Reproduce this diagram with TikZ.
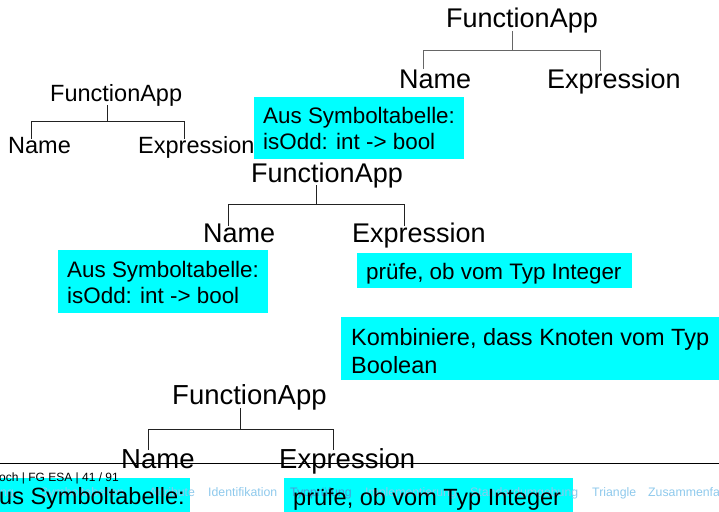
\documentclass[tikz,border=0pt]{standalone}
\usepackage{fontspec}
\setmainfont{Liberation Sans}
\definecolor{boxcyan}{HTML}{00FFFF}
\definecolor{navblue}{HTML}{8EC9EC}
\definecolor{navcur}{HTML}{4A9AD8}
\definecolor{treegray}{HTML}{666666}
\definecolor{treedark}{HTML}{222222}
\tikzset{
  txt/.style={inner sep=0pt, anchor=base west},
  tA/.style={font=\fontsize{27}{32}\selectfont},
  tB/.style={font=\fontsize{23.5}{28}\selectfont},
  tC/.style={font=\fontsize{27.5}{33}\selectfont},
  boxtxt/.style={font=\fontsize{22.4}{26}\selectfont},
  boxtxtL/.style={font=\fontsize{23.5}{28}\selectfont},
  navtxt/.style={font=\fontsize{12.3}{14}\selectfont, text=navblue},
  foot/.style={font=\fontsize{12}{14}\selectfont},
  hint/.style={fill=boxcyan, draw=none},
  treeline/.style={line width=1pt, draw=treedark},
}
\begin{document}
\begin{tikzpicture}[x=1pt,y=-1pt]
\useasboundingbox (0,0) rectangle (719,511);
\clip (0,0) rectangle (719,511);

% ---------- cyan boxes ----------
\path[hint] (254,97) rectangle (464,159);
\path[hint] (58,250) rectangle (268,313);
\path[hint] (357,253) rectangle (632,288);
\path[hint] (341,317) rectangle (725,380);
\path[hint] (-5,478) rectangle (190,515);
\path[hint] (284,478) rectangle (573,515);

% ---------- top-right tree ----------
\node[txt,tA] (fa1) at (446,28) {FunctionApp};
\node[txt,tA] (n1) at (399,88) {Name};
\node[txt,tA] (e1) at (547,88) {Expression};
\coordinate (a1) at (512,31);
\coordinate (m1) at (512,51);
\coordinate (l1) at (423,51);
\coordinate (r1) at (600,51);
\coordinate (lb1) at (423,69);
\coordinate (rb1) at (600,71);
\draw[treeline, draw=treegray] (a1) -- (m1);
\draw[treeline, draw=treegray] (lb1) -- (l1) -- (r1) -- (rb1);

% ---------- left tree ----------
\node[txt,tB] (fa2) at (50,101) {FunctionApp};
\node[txt,tB] (n2) at (8,153) {Name};
\node[txt,tB] (e2) at (138,153) {Expression};
\coordinate (a2) at (107,105);
\coordinate (m2) at (107,121);
\coordinate (l2) at (31,121);
\coordinate (r2) at (184,121);
\coordinate (lb2) at (31,139);
\coordinate (rb2) at (184,139);
\draw[treeline] (a2) -- (m2);
\draw[treeline] (lb2) -- (l2) -- (r2) -- (rb2);

% ---------- middle tree ----------
\node[txt,tA] (fa3) at (251,182) {FunctionApp};
\node[txt,tA] (n3) at (203,242) {Name};
\node[txt,tA] (e3) at (352,242.5) {Expression};
\coordinate (a3) at (316,185);
\coordinate (m3) at (316,204);
\coordinate (l3) at (228,204);
\coordinate (r3) at (404,204);
\coordinate (lb3) at (228,226);
\coordinate (rb3) at (404,226);
\draw[treeline] (a3) -- (m3);
\draw[treeline] (lb3) -- (l3) -- (r3) -- (rb3);

% ---------- bottom tree ----------
\node[txt,tC] (fa4) at (172,404) {FunctionApp};
\node[txt,tC] (n4) at (121,468) {Name};
\node[txt,tC] (e4) at (279,468) {Expression};
\coordinate (a4) at (240,408);
\coordinate (m4) at (240,429);
\coordinate (l4) at (148,429);
\coordinate (r4) at (333,429);
\coordinate (lb4) at (148,450);
\coordinate (rb4) at (333,450);
\draw[treeline] (a4) -- (m4);
\draw[treeline] (lb4) -- (l4) -- (r4) -- (rb4);

% ---------- footer ----------
\coordinate (fl) at (0,463);
\coordinate (fr) at (719,463);
\draw[line width=1pt, black] (fl) -- (fr);
\node[txt,foot] (ft) at (-1,481) {och | FG ESA | 41 / 91};

\node[txt,navtxt] (nv0) at (0,496) {ng};
\node[txt,navtxt] (nv1) at (40,496) {Symboltabellen};
\node[txt,navtxt] (nv2) at (149,496) {Attribute};
\node[txt,navtxt] (nv3) at (208,496) {Identifikation};
\node[txt,navtxt,text=navcur] (nv4) at (290,496) {Typprüfung};
\node[txt,navtxt] (nv5) at (365,496) {Implementierung};
\node[txt,navtxt] (nv6) at (470,496) {Standardumgebung};
\node[txt,navtxt] (nv7) at (592,496) {Triangle};
\node[txt,navtxt] (nv8) at (648,496) {Zusammenfa};

% ---------- box texts ----------
\node[txt,boxtxt] (h1a) at (263,123) {Aus Symboltabelle:};
\node[txt,boxtxt] (h1b) at (263,149) {isOdd: int -> bool};
\node[txt,boxtxt] (h2a) at (67,277) {Aus Symboltabelle:};
\node[txt,boxtxt] (h2b) at (67,303) {isOdd: int -> bool};
\node[txt,boxtxt] (h3) at (366,279) {prüfe, ob vom Typ Integer};
\node[txt,boxtxtL] (h4a) at (351,345) {Kombiniere, dass Knoten vom Typ};
\node[txt,boxtxtL] (h4b) at (351,373) {Boolean};
\node[txt,boxtxtL] (h5) at (-1,504) {us Symboltabelle:};
\node[txt,boxtxtL] (h6) at (293,505) {prüfe, ob vom Typ Integer};
\end{tikzpicture}
\end{document}
